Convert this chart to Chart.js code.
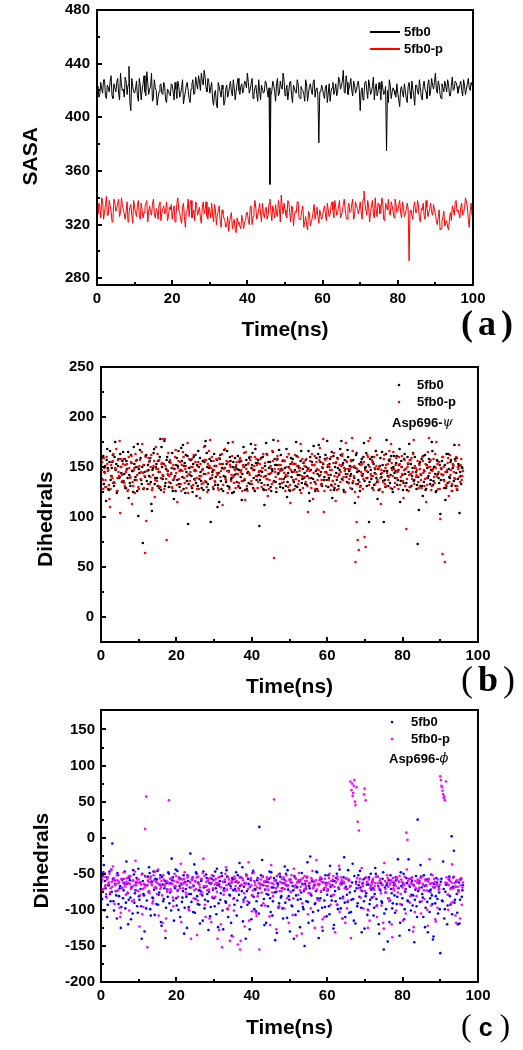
<!DOCTYPE html>
<html>
<head>
<meta charset="utf-8">
<script src="https://cdn.jsdelivr.net/npm/chart.js@4.4.1/dist/chart.umd.min.js"></script>
<style>
  body { margin: 0; background: #fff; width: 523px; height: 1050px; position: relative; overflow: hidden; }
  canvas { position: absolute; left: 0; }
  .tag { position: absolute; color: #000; line-height: 1; white-space: nowrap; font-family: 'Liberation Serif', serif; }
</style>
</head>
<body>
<canvas id="chartA" width="523" height="351" style="top:-6px"></canvas>
<canvas id="chartB" width="523" height="355" style="top:345px"></canvas>
<canvas id="chartC" width="523" height="355" style="top:695px"></canvas>
<div class="tag" style="left:461px;top:305px;font-size:36px;font-weight:bold;letter-spacing:5px">(a)</div>
<div class="tag" style="left:461px;top:661px;font-size:36px;letter-spacing:5px">(<b>b</b>)</div>
<div class="tag" style="left:461px;top:1009px;font-size:32px">(<span style="font:bold 25px 'Liberation Sans',sans-serif;margin:0 7px">c</span>)</div>
<script>
// tick labels
const timeTicks = [0, 20, 40, 60, 80, 100];
const sasaTicks = [280, 320, 360, 400, 440, 480];
const psiTicks = [0, 50, 100, 150, 200, 250];
const phiTicks = [-200, -150, -100, -50, 0, 50, 100, 150];

// (a) SASA, one value every 0.5 ns from 0 to 100 ns (...Mid: the samples in between)
const sasaStep = 0.5;
const sasa5fb0 = [
  420,415,426,418,428,414,422,427,416,425,419,429,413,424,421,430,417,438,405,423,
  418,427,412,424,420,431,416,426,421,433,414,422,409,419,425,417,423,411,420,416,
  424,413,421,427,415,422,410,419,426,414,421,428,418,425,431,420,427,435,422,429,
  418,426,409,420,407,423,415,421,412,424,418,427,416,422,419,429,417,425,421,426,
  433,418,425,414,422,417,428,413,421,419,426,415,350,420,424,412,429,418,423,433,
  416,424,419,427,411,422,418,425,414,421,417,428,412,423,420,426,415,422,381,419,
  421,414,424,418,412,422,417,425,419,428,423,435,418,426,421,429,416,424,420,427,
  405,422,417,427,414,424,419,430,421,416,426,413,422,418,375,411,424,419,420,415,
  418,408,423,415,420,411,426,414,421,409,424,417,422,413,427,419,425,416,429,421,
  433,418,424,414,422,427,419,425,416,430,421,426,418,424,420,428,417,425,422,426,
  421
];
const sasa5fb0Mid = [
  423,417,421,428,416,424,419,431,414,422,426,418,433,420,415,427,424,411,429,419,
  421,416,429,413,425,419,434,417,423,412,428,420,415,424,418,426,413,421,417,425,
  419,426,414,423,418,428,415,424,420,411,425,417,430,421,427,433,424,430,419,426,
  422,413,418,410,426,419,424,409,421,415,423,419,428,413,425,420,423,418,427,422,
  426,421,429,417,424,412,420,424,418,427,420,422,416,427,419,425,416,427,421,428,
  420,413,426,416,424,419,428,415,423,420,412,424,418,425,417,428,421,416,419,424,
  417,423,411,425,419,426,420,416,430,421,427,419,431,417,424,420,427,418,425,421,
  419,413,426,420,428,417,423,413,425,419,421,427,417,423,420,428,414,422,417,425,
  413,421,418,425,414,423,419,427,416,424,419,428,415,423,421,414,428,420,424,426,
  421,427,417,425,419,423,428,416,424,420,427,423,421,427,416,424,421,429,420,424
];
const sasa5fb0p = [
  331,336,325,338,329,341,327,334,322,339,330,336,326,340,331,324,337,328,335,321,
  333,326,338,324,331,329,336,322,334,327,339,325,330,335,323,332,328,337,326,331,
  324,334,327,340,329,321,336,318,331,326,338,328,323,335,330,325,333,328,337,324,
  330,336,322,331,327,334,318,328,323,320,315,326,317,324,314,322,319,327,317,323,
  329,320,334,326,338,324,331,328,336,325,333,327,339,323,330,335,326,332,342,328,
  331,325,336,322,333,327,329,337,324,331,318,326,316,328,322,330,324,333,321,327,
  326,334,323,331,328,337,325,333,329,338,327,335,331,324,336,330,339,326,334,328,
  337,324,345,331,338,322,334,328,340,326,335,329,337,323,333,339,327,334,325,336,
  330,338,325,333,328,336,293,331,324,337,329,334,322,331,327,338,326,332,329,335,
  328,320,331,317,326,319,323,316,329,334,327,338,331,325,336,329,340,333,318,336,
  329
];
const sasa5fb0pMid = [
  328,333,340,324,335,327,338,330,325,336,332,339,329,335,328,330,322,333,327,338,
  329,334,327,336,325,333,338,330,329,335,328,332,324,337,329,334,330,323,333,335,
  330,322,336,331,324,333,326,330,339,335,325,331,337,327,333,321,337,331,326,333,
  325,327,335,320,330,323,331,325,318,326,322,329,321,316,325,320,317,323,322,329,
  323,333,320,331,332,327,336,322,329,331,324,336,330,334,325,328,338,322,334,336,
  327,338,329,334,319,330,337,324,326,334,322,320,330,319,325,335,329,326,331,324,
  331,328,336,326,334,331,338,327,334,325,330,339,326,333,329,335,324,337,332,331,
  330,339,336,327,333,329,338,325,331,336,328,340,324,336,331,328,337,330,339,329,
  335,329,337,326,331,332,330,327,334,329,338,325,332,336,324,333,329,336,327,331,
  323,326,316,322,330,322,318,325,323,331,336,330,328,333,327,332,337,324,330,327
];

// (b) Asp696-psi dihedral, one value every 0.3 ns from 0 to 96 ns (...Mid: in between)
const dihStep = 0.3;
const psi5fb0 = [
  152,138,161,145,130,157,149,127,166,141,155,134,160,147,124,151,139,163,144,156,
  136,158,129,148,165,142,131,154,146,170,137,150,126,101,144,159,133,74,152,140,
  162,128,147,156,135,106,149,168,139,153,131,145,160,127,150,141,176,134,157,146,
  130,155,143,164,137,148,126,159,151,133,146,169,140,128,154,162,136,93,149,157,
  141,125,160,147,134,152,166,138,145,129,156,143,171,135,150,127,158,95,139,147,
  163,132,151,110,144,158,136,149,126,167,140,153,131,146,160,138,124,155,142,150,
  135,161,147,129,156,143,170,137,152,128,145,159,133,149,164,139,126,154,141,157,
  91,146,134,160,127,151,174,138,155,143,130,148,165,136,152,125,158,144,133,162,
  147,129,156,140,168,135,150,126,159,145,137,153,131,161,142,149,127,166,138,154,
  144,157,132,148,124,160,139,152,171,135,146,128,163,141,155,133,149,137,158,145,
  176,130,153,142,165,136,127,150,144,159,131,147,162,138,154,125,148,140,167,134,
  151,143,128,157,139,149,164,133,146,126,155,141,160,136,150,131,145,95,158,138,
  129,153,144,166,135,148,127,159,140,152,95,137,163,146,131,156,142,149,125,161,
  139,154,132,147,168,136,150,127,158,143,134,160,145,130,153,141,164,137,149,128,
  73,107,155,142,131,161,146,127,152,139,158,133,147,166,136,150,125,157,143,134,
  103,148,160,137,152,129,145,163,140,155,131,149,136,158,144,127,153,104,141,150,
  146
];
const psi5fb0Mid = [
  147,159,133,151,116,168,128,155,137,149,162,131,175,153,126,158,140,150,135,165,
  143,129,156,139,119,134,162,146,125,153,140,157,173,148,167,137,150,128,145,161,
  136,152,141,159,113,147,164,133,150,139,156,129,178,170,138,153,131,148,160,142,
  155,134,149,126,118,141,152,137,166,130,147,156,172,151,124,145,161,133,142,157,
  129,153,138,162,121,131,150,159,136,147,127,155,176,164,133,149,138,156,145,128,
  151,140,157,132,115,162,128,153,141,149,135,166,174,130,156,139,150,125,159,143,
  148,131,155,140,117,136,150,127,157,144,134,160,173,152,129,147,168,137,154,142,
  137,159,145,128,112,141,163,132,149,155,126,146,177,158,135,152,143,167,130,148,
  156,138,149,131,120,144,127,153,140,158,135,147,175,130,151,142,156,134,148,139,
  133,150,141,166,116,147,155,138,152,126,159,143,172,160,145,131,153,140,162,137,
  150,139,158,132,119,161,129,154,137,149,142,168,176,152,127,157,143,135,160,146,
  141,156,134,150,114,162,145,137,153,131,158,143,174,149,164,139,152,135,147,160,
  155,132,148,139,118,127,151,143,165,136,146,130,177,141,157,134,161,128,150,144,
  146,161,137,152,115,156,142,134,163,148,127,153,173,157,131,149,136,160,145,132,
  140,153,131,158,121,135,162,128,149,141,155,137,175,132,150,143,126,156,139,152,
  137,156,142,129,117,163,134,148,139,157,126,152,172,131,159,138,151,145,133,149
];
const psi5fb0p = [
  143,155,128,149,137,160,146,132,110,152,139,163,134,148,126,157,141,104,150,136,
  158,131,145,153,127,149,140,161,135,147,124,156,142,130,151,138,165,144,129,64,
  96,146,159,133,150,127,142,156,137,148,163,131,145,139,154,178,128,151,77,143,
  135,157,144,129,152,140,167,132,149,138,155,126,146,160,134,151,141,124,158,145,
  131,150,162,137,146,128,155,141,153,133,148,170,136,157,125,144,151,139,160,130,
  147,135,158,142,127,153,146,163,132,149,138,156,124,145,152,136,161,140,148,129,
  155,143,134,159,147,126,150,138,165,131,153,144,157,136,148,128,160,141,152,135,
  146,158,130,149,140,154,127,162,143,137,151,133,156,59,145,129,161,148,138,152,
  134,157,144,126,150,141,163,132,147,155,137,128,153,145,160,136,149,124,158,140,
  151,135,146,105,139,156,129,152,144,161,133,148,126,157,142,137,154,105,145,131,
  159,142,150,127,147,136,164,133,155,140,128,152,145,161,137,149,125,156,143,134,
  148,157,179,136,151,55,95,77,67,130,145,153,138,80,70,146,160,132,179,141,
  155,127,149,143,162,135,150,139,147,125,158,133,152,144,137,166,129,154,141,148,
  134,159,145,128,153,140,161,136,147,131,88,150,126,157,143,138,163,133,149,142,
  156,129,148,137,160,144,131,153,139,165,179,150,127,146,158,134,149,141,128,155,
  98,143,63,150,55,132,147,159,135,142,126,153,145,138,160,131,148,140,152,137,
  146
];
const psi5fb0pMid = [
  150,137,159,144,130,153,147,118,128,141,156,135,149,168,139,145,176,158,142,153,
  134,152,147,126,160,139,155,113,131,149,163,137,150,128,157,145,173,152,141,160,
  146,133,155,140,162,129,151,120,170,136,148,157,130,153,142,125,178,138,147,164,
  141,154,130,149,138,160,144,115,156,146,133,152,165,139,148,129,174,143,136,150,
  158,132,146,155,139,151,128,119,141,147,134,157,143,130,153,166,177,149,142,156,
  136,151,144,129,159,140,153,112,148,168,137,146,155,128,150,142,175,134,147,152,
  143,130,157,145,136,152,164,117,148,126,154,142,160,133,147,151,172,158,129,145,
  153,141,149,163,132,147,138,121,128,150,144,166,135,148,140,157,176,152,146,138,
  147,135,156,142,160,130,149,114,153,127,145,162,138,151,133,146,173,141,129,155,
  140,158,131,149,146,134,163,118,152,128,155,137,147,169,132,150,178,126,157,144,
  152,137,147,160,131,154,141,116,127,158,143,135,151,163,140,146,174,155,148,138,
  129,150,166,141,125,133,148,120,135,152,142,128,155,147,139,162,176,150,143,157,
  141,160,133,151,137,148,128,113,144,135,162,149,131,153,140,158,173,147,165,130,
  152,139,146,160,132,150,143,119,157,148,138,154,142,130,159,145,177,151,140,147,
  135,152,143,129,156,147,138,115,132,150,144,157,131,148,140,163,175,153,145,128,
  149,142,160,136,145,131,154,121,162,147,133,151,139,156,128,150,172,135,158,141
];

// (c) Asp696-phi dihedral, same time grid as (b)
const phi5fb0 = [
  -62,-85,-48,-101,-70,-55,-93,-66,-78,-44,-8,-88,-59,-74,-112,-52,-81,-67,-96,-58,
  -73,-47,-90,-64,-120,-56,-83,-69,-105,-51,-77,-62,-95,-43,-86,-71,-140,-60,-80,-53,
  -98,-66,-75,-49,-108,-61,-84,-72,-57,-92,-46,-79,-65,-117,-54,-88,-70,-139,-63,-82,
  -50,-76,-101,-59,-87,-68,-44,-94,-73,-56,-110,-64,-83,-52,-97,-71,-125,-60,-78,-22,
  -89,-55,-67,-104,-48,-81,-62,-93,-74,-58,-115,-69,-86,-51,-78,-128,-63,-96,-57,-72,
  -84,-47,-106,-66,-91,-60,-77,-53,-127,-70,-88,-45,-99,-64,-80,-118,-56,-73,-93,-61,
  -108,-52,-79,-67,-96,-41,-86,-63,-140,-74,-57,-90,-68,-113,-49,-82,-71,-102,-59,-77,
  15,-65,-94,-54,-85,-72,-118,-61,-79,-47,-103,-69,-88,-56,-142,-75,-63,-97,-50,-83,
  -70,-112,-58,-90,-66,-45,-81,-130,-62,-95,-73,-53,-107,-68,-86,-59,-124,-76,-64,-99,
  -150,-71,-55,-89,-67,-26,-80,-115,-61,-92,-74,-48,-101,-65,-84,-57,-129,-72,-96,-63,
  -79,-52,-106,-68,-87,-60,-121,-74,-56,-93,-69,-44,-98,-64,-82,-27,-110,-71,-89,-58,
  -76,-103,-62,-85,-53,-119,-70,-91,-66,-46,-97,-74,-58,-126,-81,-65,-100,-55,-86,-72,
  -61,-108,-78,-50,-94,-67,-133,-73,-88,-57,-155,-69,-99,-63,-84,-117,-52,-77,-91,-66,
  -104,-59,-82,-70,-136,-48,-93,-64,-113,-75,-56,-87,-30,-68,-101,-60,-80,-145,-72,-95,
  25,-63,-89,-54,-78,-110,-67,-97,-58,-131,-74,-84,-51,-92,-137,-69,-81,-62,-105,-76,
  -160,-57,-88,-71,-99,-65,-120,-79,-54,-93,2,-68,-18,-86,-61,-104,-73,-119,-58,-82,
  -66
];
const phi5fb0Mid = [
  -71,-53,-38,-60,-82,-110,-66,-47,-88,-75,-57,-101,-64,-80,-49,-92,-70,-125,-58,-84,
  -63,-98,-33,-77,-86,-59,-113,-68,-45,-90,-73,-56,-104,-81,-62,-95,-50,-78,-130,-66,
  -87,-54,-41,-99,-61,-83,-47,-107,-69,-58,-93,-76,-52,-122,-65,-85,-60,-97,-72,-48,
  -91,-63,-29,-55,-115,-70,-84,-46,-100,-67,-57,-89,-74,-133,-61,-82,-52,-96,-69,-78,
  -58,-103,-37,-85,-50,-92,-73,-119,-60,-80,-47,-98,-68,-56,-88,-75,-109,-63,-83,-53,
  -95,-70,-43,-124,-65,-86,-49,-101,-73,-61,-90,-54,-110,-79,-67,-136,-58,-84,-71,-48,
  -87,-62,-35,-55,-74,-116,-68,-83,-51,-93,-64,-127,-59,-80,-46,-99,-72,-88,-56,-105,
  -70,-52,-31,-66,-121,-61,-78,-95,-57,-84,-48,-108,-69,-76,-59,-132,-65,-91,-54,-81,
  -98,-63,-40,-50,-111,-72,-86,-58,-94,-67,-140,-55,-80,-69,-102,-61,-85,-49,-96,-74,
  -64,-88,-34,-118,-70,-79,-60,-103,-66,-91,-47,-84,-139,-58,-75,-97,-62,-87,-52,-109,
  -73,-95,-39,-81,-66,-126,-60,-88,-50,-99,-71,-84,-62,-112,-55,-90,-68,-79,-45,-104,
  -67,-86,-36,-115,-74,-61,-95,-52,-82,-69,-131,-63,-88,-56,-77,-107,-65,-92,-50,-83,
  -70,-97,-42,-85,-54,-120,-72,-63,-90,-48,-105,-76,-66,-144,-59,-87,-71,-98,-62,-80,
  -55,-92,-30,-61,-118,-67,-84,-50,-99,-71,-63,-88,-128,-57,-79,-94,-66,-86,-53,-110,
  -74,-60,-38,-69,-83,-52,-124,-66,-89,-58,-103,-72,-80,-141,-64,-91,-56,-85,-68,-99,
  -61,-87,-33,-112,-75,-65,-94,-58,-81,-70,-106,-55,-90,-68,-78,-120,-62,-86,-57,-73
];
const phi5fb0p = [
  -15,-58,-71,-49,-66,-83,-55,-62,-76,-45,-68,-59,-92,-64,-52,-73,-61,-110,-57,-70,
  -48,-65,-79,-56,-63,-101,-53,-69,-60,-86,-47,-66,-58,-74,-123,-62,-51,-71,-64,12,
  57,-152,-61,-77,-54,-66,-88,-59,-47,-70,-63,-108,-56,-68,-80,-52,-65,-129,-60,-72,
  52,-57,-74,-64,-95,-50,-67,-61,-82,-55,-70,-117,-58,-63,-48,-76,-66,-53,-101,-62,
  -69,-56,-84,-60,-71,-135,-54,-65,-78,-58,-49,-67,-93,-61,-73,-57,-112,-64,-52,-70,
  -59,-82,-63,-140,-55,-68,-120,-152,-61,-74,-50,-66,-98,-58,-143,-70,-62,-85,-54,-67,
  -60,-148,-72,-155,-65,-56,-89,-123,-63,-52,-71,-115,-58,-66,-80,-48,-62,-104,-69,-57,
  -155,-64,-76,-53,-61,-94,-67,-58,-72,-109,-55,-63,-81,53,-60,-127,-68,-51,-74,-62,
  -57,-70,-98,-64,-52,-67,-118,-59,-75,-62,-84,-54,-66,-136,-61,-49,-73,-58,-91,-65,
  -53,-69,-60,-106,-63,-77,-56,-46,-68,-125,-59,-72,-64,-87,-55,-61,-113,-70,-57,-66,
  -74,-62,-50,-93,-67,-58,-79,-131,-61,-54,-70,-103,-65,-59,-84,-63,-118,-56,-71,-60,
  -68,-139,75,62,80,45,70,22,10,-57,-73,-64,-98,68,52,-61,-125,-58,-70,-66,
  -59,-82,-67,-54,-110,-63,-71,-57,-94,-65,-126,-60,-76,-52,-68,-88,-62,-120,-56,-73,
  -64,-101,-58,-69,-53,-78,-61,-115,-66,-72,7,-3,-57,-90,-63,-55,-130,-67,-60,-81,
  -58,-71,-62,-105,-54,-66,-85,-60,-73,-122,-57,-64,-94,-52,-69,-61,-116,-65,-58,-70,
  85,72,65,55,52,78,-63,-100,-57,-71,-62,-89,-54,-68,-118,-60,-75,-58,-66,-93,
  -62
];
const phi5fb0pMid = [
  -60,-72,-54,-67,-78,-58,-64,-50,-70,-61,-40,-56,-66,-74,-59,-63,-97,-104,-69,-62,
  -57,-68,-61,-76,-53,-64,-71,-88,-59,-66,-32,-73,-62,-58,-80,-65,-106,-96,-69,-54,
  -66,-59,-74,-57,-63,-91,-52,-69,-61,-78,-44,-65,-71,-60,-118,-58,-67,-112,-75,-62,
  -64,-71,-56,-83,-60,-67,-53,-74,-62,-58,-36,-65,-70,-57,-63,-79,-55,-99,-61,-140,
  -58,-66,-73,-61,-55,-87,-64,-69,-57,-76,-29,-53,-110,-67,-60,-72,-56,-117,-82,-59,
  -65,-57,-75,-63,-128,-54,-69,-61,-79,-58,-41,-72,-55,-94,-63,-60,-137,-101,-57,-74,
  -62,-70,-55,-143,-66,-59,-77,-64,-53,-88,-34,-68,-56,-102,-73,-60,-66,-108,-81,-63,
  -69,-58,-65,-91,-60,-72,-55,-67,-62,-121,-38,-76,-64,-59,-70,-53,-96,-95,-61,-74,
  -63,-55,-71,-60,-84,-66,-58,-75,-52,-107,-43,-69,-57,-62,-79,-59,-68,-133,-56,-72,
  -60,-67,-54,-77,-63,-98,-58,-70,-61,-65,-31,-86,-66,-59,-74,-124,-62,-110,-69,-64,
  -71,-56,-65,-60,-80,-53,-68,-62,-93,-58,-39,-64,-55,-112,-61,-70,-57,-98,-87,-59,
  78,66,58,72,50,-64,-56,-70,-61,-83,-42,-67,60,-74,-55,-62,-101,-115,-68,-63,
  -57,-72,-63,-95,-54,-68,-60,-77,-66,-118,-35,-71,-62,-56,-84,-65,-59,-138,-70,-61,
  -67,-55,-76,-61,-92,-58,-69,-63,-54,-105,-44,-60,-66,-81,-57,-64,-124,-103,-70,-62,
  -60,-69,-56,-88,-64,-73,-58,-67,-100,-61,-30,-76,-63,-68,-57,-113,-66,-97,-72,-65,
  80,70,60,57,-62,-55,-79,-66,-60,-91,-37,-70,-63,-108,-59,-68,-74,-112,-56,-69
];

const tickFont = { family: "'Liberation Sans', Arial, sans-serif", size: 15, weight: 'bold' };
const titleFont = { family: "'Liberation Sans', Arial, sans-serif", size: 21, weight: 'bold' };

// main samples sit on i*step, the Mid samples half a step later
function toPoints(values, mid, step) {
  const pts = [];
  values.forEach((v, i) => {
    pts.push({ x: i * step, y: v });
    if (i < mid.length) pts.push({ x: (i + 0.5) * step, y: mid[i] });
  });
  return pts;
}

// frame, inward ticks and the little legend box
const framePlugin = {
  id: 'frame',
  afterDatasetsDraw(chart, args, opts) {
    const { ctx, chartArea: a } = chart;
    const xs = chart.scales.x, ys = chart.scales.y;
    ctx.save();
    ctx.strokeStyle = '#000';
    ctx.lineWidth = 2;
    ctx.beginPath();
    const xv = xs.ticks.map(t => t.value);
    xv.forEach((v, i) => {
      const p = Math.round(xs.getPixelForValue(v));
      ctx.moveTo(p, a.bottom); ctx.lineTo(p, a.bottom - 5);
      if (i < xv.length - 1) {
        const m = Math.round(xs.getPixelForValue((v + xv[i + 1]) / 2));
        ctx.moveTo(m, a.bottom); ctx.lineTo(m, a.bottom - 3);
      }
    });
    const yv = ys.ticks.map(t => t.value);
    yv.forEach((v, i) => {
      const p = Math.round(ys.getPixelForValue(v));
      ctx.moveTo(a.left, p); ctx.lineTo(a.left + 5, p);
      if (i < yv.length - 1) {
        const m = Math.round(ys.getPixelForValue((v + yv[i + 1]) / 2));
        ctx.moveTo(a.left, m); ctx.lineTo(a.left + 3, m);
      }
    });
    ctx.stroke();
    ctx.strokeRect(Math.round(a.left), Math.round(a.top), Math.round(a.right - a.left), Math.round(a.bottom - a.top));

    ctx.font = "bold 13px 'Liberation Sans', Arial, sans-serif";
    ctx.textBaseline = 'middle';
    ctx.fillStyle = '#000';
    (opts.items || []).forEach(it => {
      if (it.kind === 'line') {
        ctx.strokeStyle = it.color;
        ctx.lineWidth = 2;
        ctx.beginPath();
        ctx.moveTo(it.x, it.y); ctx.lineTo(it.x + 30, it.y);
        ctx.stroke();
      } else {
        ctx.fillStyle = it.color;
        ctx.beginPath();
        ctx.arc(it.x, it.y, 1.3, 0, Math.PI * 2);
        ctx.fill();
      }
      ctx.fillStyle = '#000';
      ctx.fillText(it.label, it.tx, it.y);
    });
    if (opts.note) {
      const n = opts.note;
      ctx.fillText(n.text, n.x, n.y);
      const w = ctx.measureText(n.text).width;
      ctx.font = "italic 13px 'DejaVu Serif', serif";
      ctx.fillText(n.sym, n.x + w, n.y);
    }
    ctx.restore();
  }
};

function makeScales(o) {
  return {
    x: {
      type: 'linear', min: 0, max: 100,
      afterBuildTicks: s => { s.ticks = timeTicks.map(v => ({ value: v })); },
      afterFit: s => { s.height = o.xh; },
      grid: { display: false, drawTicks: false },
      border: { display: false },
      ticks: { padding: 5, color: '#000', font: tickFont, maxRotation: 0 },
      title: { display: true, text: 'Time(ns)', color: '#000', font: titleFont, padding: { top: 0, bottom: o.xtPad } }
    },
    y: {
      type: 'linear', min: o.ymin, max: o.ymax,
      afterBuildTicks: s => { s.ticks = o.yticks.map(v => ({ value: v })); },
      afterFit: s => { s.width = o.yw; },
      grid: { display: false, drawTicks: false },
      border: { display: false },
      ticks: { padding: o.ytp, color: '#000', font: tickFont },
      title: { display: true, text: o.ytitle, color: '#000', font: titleFont, padding: { top: o.ytPad, bottom: 0 } }
    }
  };
}

const common = {
  responsive: false,
  animation: false,
  events: [],
  plugins: { legend: { display: false }, tooltip: { enabled: false } }
};

// (a)
new Chart(document.getElementById('chartA'), {
  type: 'line',
  data: {
    datasets: [
      { label: '5fb0', data: toPoints(sasa5fb0, sasa5fb0Mid, sasaStep), borderColor: '#000000', borderWidth: 1, pointRadius: 0 },
      { label: '5fb0-p', data: toPoints(sasa5fb0p, sasa5fb0pMid, sasaStep), borderColor: '#ff0000', borderWidth: 1, pointRadius: 0 }
    ]
  },
  options: {
    ...common,
    layout: { padding: { left: 0, right: 50, top: 15, bottom: 0 } },
    scales: makeScales({ ymin: 275, ymax: 480, yticks: sasaTicks, ytitle: 'SASA   ', yw: 97, ytp: 7, ytPad: 19, xh: 60, xtPad: 2 }),
    plugins: {
      ...common.plugins,
      frame: {
        items: [
          { kind: 'line', color: '#000000', label: '5fb0', x: 370, y: 38, tx: 404 },
          { kind: 'line', color: '#ff0000', label: '5fb0-p', x: 370, y: 55, tx: 404 }
        ]
      }
    }
  },
  plugins: [framePlugin]
});

// (b)
new Chart(document.getElementById('chartB'), {
  type: 'scatter',
  data: {
    datasets: [
      { label: '5fb0-p', data: toPoints(psi5fb0p, psi5fb0pMid, dihStep), backgroundColor: '#ff0000', borderWidth: 0, pointRadius: 1.3 },
      { label: '5fb0', data: toPoints(psi5fb0, psi5fb0Mid, dihStep), backgroundColor: '#000000', borderWidth: 0, pointRadius: 1.3 }
    ]
  },
  options: {
    ...common,
    layout: { padding: { left: 0, right: 45, top: 22, bottom: 0 } },
    scales: makeScales({ ymin: -25, ymax: 250, yticks: psiTicks, ytitle: 'Dihedrals     ', yw: 101, ytp: 7, ytPad: 34, xh: 58, xtPad: 0 }),
    plugins: {
      ...common.plugins,
      frame: {
        items: [
          { kind: 'dot', color: '#000000', label: '5fb0', x: 399, y: 40, tx: 417 },
          { kind: 'dot', color: '#ff0000', label: '5fb0-p', x: 399, y: 57, tx: 417 }
        ],
        note: { text: 'Asp696-', sym: 'ψ', x: 392, y: 78 }
      }
    }
  },
  plugins: [framePlugin]
});

// (c)
new Chart(document.getElementById('chartC'), {
  type: 'scatter',
  data: {
    datasets: [
      { label: '5fb0-p', data: toPoints(phi5fb0p, phi5fb0pMid, dihStep), backgroundColor: '#ff00ff', borderWidth: 0, pointRadius: 1.3 },
      { label: '5fb0', data: toPoints(phi5fb0, phi5fb0Mid, dihStep), backgroundColor: '#0000ff', borderWidth: 0, pointRadius: 1.3 }
    ]
  },
  options: {
    ...common,
    layout: { padding: { left: 0, right: 45, top: 11, bottom: 0 } },
    scales: makeScales({ ymin: -200, ymax: 177, yticks: phiTicks, ytitle: 'Dihedrals     ', yw: 101, ytp: 6, ytPad: 30, xh: 68, xtPad: 9 }),
    plugins: {
      ...common.plugins,
      frame: {
        items: [
          { kind: 'dot', color: '#0000ff', label: '5fb0', x: 392, y: 27, tx: 411 },
          { kind: 'dot', color: '#ff00ff', label: '5fb0-p', x: 392, y: 44, tx: 411 }
        ],
        note: { text: 'Asp696-', sym: 'ϕ', x: 389, y: 64 }
      }
    }
  },
  plugins: [framePlugin]
});
</script>
</body>
</html>
